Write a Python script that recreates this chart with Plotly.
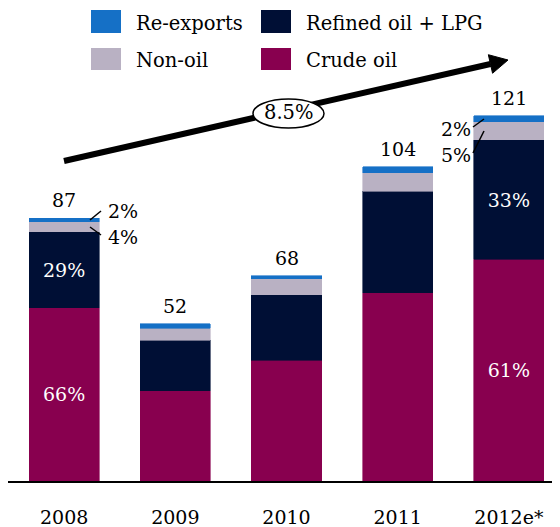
import plotly.graph_objects as go
import math

# ---- data ----
years = ["2008", "2009", "2010", "2011", "2012e*"]
crude_oil = [57.4, 29.9, 40.0, 62.3, 73.4]
refined_oil_lpg = [25.2, 16.7, 21.6, 33.7, 39.6]
non_oil = [3.3, 4.0, 5.3, 6.0, 5.9]
re_exports = [1.1, 1.4, 1.1, 2.0, 2.1]
totals = [87, 52, 68, 104, 121]
crude_labels = ["66%", "", "", "", "61%"]
refined_labels = ["29%", "", "", "", "33%"]
cagr_label = "8.5%"

# ---- style ----
FONT = "DejaVu Serif"
C_RE = "#1570C6"
C_REF = "#000F35"
C_NON = "#B9B1C3"
C_CRUDE = "#88004F"

# the page body has an 8px margin, so the figure is drawn 8px in from the corner
OFF = 8
W, H = 560 - OFF, 527 - OFF
ML, MR, MT, MB = 0, 0, 0, 46
PW, PH = W - ML - MR, H - MT - MB
YMAX = PH / 3.02


def px(x):  # screen x -> paper
    return (x - OFF - ML) / PW


def py(y):  # screen y -> paper
    return (H - MB + OFF - y) / PH


fig = go.Figure()
common = dict(x=list(range(len(years))), width=0.63, hoverinfo="skip",
              textposition="inside", insidetextanchor="middle",
              textangle=0, constraintext="none",
              textfont=dict(family=FONT, size=19, color="white"))
for vals, name, col, txt in [
    (crude_oil, "Crude oil", C_CRUDE, crude_labels),
    (refined_oil_lpg, "Refined oil + LPG", C_REF, refined_labels),
    (non_oil, "Non-oil", C_NON, None),
    (re_exports, "Re-exports", C_RE, None),
]:
    fig.add_bar(y=vals, name=name, text=txt,
                marker=dict(color=col, line=dict(color=col, width=0.6)), **common)

annotations = []
shapes = []

# totals on top
for i, t in enumerate(totals):
    annotations.append(dict(x=i, y=t, xref="x", yref="y", text=str(t), showarrow=False,
                            yanchor="bottom", yshift=5,
                            font=dict(family=FONT, size=19, color="black")))

# side labels with leader lines
side = [
    ("2%", 123, 211, (90, 220), (101, 211)),
    ("4%", 123, 237, (90, 227), (101, 235)),
    ("2%", 456, 129, (473, 127), (484, 119)),
    ("5%", 456, 155, (473, 153), (484, 131)),
]
for txt, tx, ty, p0, p1 in side:
    annotations.append(dict(x=px(tx), y=py(ty), xref="paper", yref="paper", text=txt,
                            showarrow=False, xanchor="center", yanchor="middle",
                            font=dict(family=FONT, size=19, color="black")))
    shapes.append(dict(type="line", xref="paper", yref="paper",
                       x0=px(p0[0]), y0=py(p0[1]), x1=px(p1[0]), y1=py(p1[1]),
                       line=dict(color="black", width=1.5)))

# growth arrow
tail = (64, 161)
tip = (508, 60)
dx, dy = tip[0] - tail[0], tip[1] - tail[1]
L = math.hypot(dx, dy)
ux, uy = dx / L, dy / L
hl, hw = 18, 9.5
bx, by = tip[0] - hl * ux, tip[1] - hl * uy
nx, ny = -uy, ux
shapes.append(dict(type="line", xref="paper", yref="paper",
                   x0=px(tail[0]), y0=py(tail[1]), x1=px(bx), y1=py(by),
                   line=dict(color="black", width=6)))
pts = [(tip[0], tip[1]), (bx + hw * nx, by + hw * ny), (bx - hw * nx, by - hw * ny)]
path = "M " + " L ".join(f"{px(a):.5f},{py(b):.5f}" for a, b in pts) + " Z"
shapes.append(dict(type="path", xref="paper", yref="paper", path=path,
                   fillcolor="black", line=dict(color="black", width=1)))
shapes.append(dict(type="circle", xref="paper", yref="paper",
                   x0=px(253), x1=px(324), y0=py(128), y1=py(99),
                   fillcolor="white", line=dict(color="black", width=1.5)))
annotations.append(dict(x=px(288.5), y=py(112), xref="paper", yref="paper", text=cagr_label,
                        showarrow=False, xanchor="center", yanchor="middle",
                        font=dict(family=FONT, size=19.5, color="black")))

# custom legend
legend_items = [
    ("Re-exports", C_RE, 91, 10, 33, 23),
    ("Refined oil + LPG", C_REF, 261, 10, 33, 23),
    ("Non-oil", C_NON, 91, 48, 70, 60),
    ("Crude oil", C_CRUDE, 261, 48, 70, 60),
]
for name, col, x0, y0, y1, yc in legend_items:
    shapes.append(dict(type="rect", xref="paper", yref="paper",
                       x0=px(x0), x1=px(x0 + 30), y0=py(y1), y1=py(y0),
                       fillcolor=col, line=dict(width=0)))
    annotations.append(dict(x=px(x0 + 43), y=py(yc), xref="paper", yref="paper", text=name,
                            showarrow=False, xanchor="left", yanchor="middle",
                            font=dict(family=FONT, size=19.5, color="black")))

fig.update_layout(
    width=W, height=H, barmode="stack", showlegend=False,
    margin=dict(l=ML, r=MR, t=MT, b=MB, pad=0),
    paper_bgcolor="white", plot_bgcolor="white",
    font=dict(family=FONT, size=19, color="black"),
    annotations=annotations, shapes=shapes,
    xaxis=dict(range=[-0.505, 4.46], showline=True, linecolor="black", linewidth=2,
               showgrid=False, zeroline=False, ticks="", ticklabelstandoff=18,
               tickmode="array", tickvals=list(range(len(years))), ticktext=years,
               tickfont=dict(family=FONT, size=19, color="black")),
    yaxis=dict(range=[0, YMAX], visible=False, showgrid=False, zeroline=False),
)

fig.write_html("out.html")
